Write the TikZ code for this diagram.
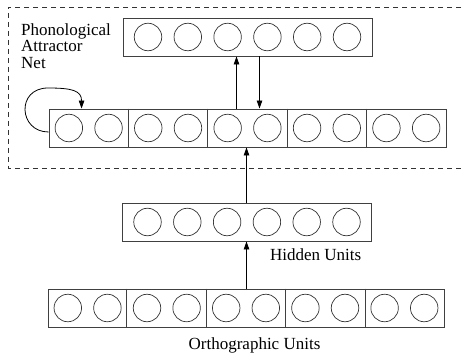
\documentclass[tikz,border=0pt]{standalone}
\usepackage{fontspec}
\newfontfamily\labelfont{Liberation Serif}
\usetikzlibrary{positioning,calc,arrows.meta}

\tikzset{
  layer/.style={draw=black!75, line width=0.9pt, minimum height=38pt, inner sep=0pt},
  unit/.style={circle, draw=black!80, line width=0.7pt, minimum size=27.5pt, inner sep=0pt},
  link/.style={-{Triangle[length=8pt,width=5.5pt]}, line width=0.8pt},
  lbl/.style={inner sep=0pt, font=\labelfont\fontsize{17}{16.3}\selectfont}
}

\begin{document}
\begin{tikzpicture}[x=1pt,y=-1pt]
  \useasboundingbox (0,0) rectangle (465,355);
  % attractor region
  \draw[dash pattern=on 5pt off 4pt, line width=0.7pt, black!80] (470,7) -- (8,7) -- (8,168) -- (470,168);
  % layers
  \node[layer, minimum width=249pt] (phonout) at (247.5,37) {};
  \node[layer, minimum width=397pt] (phon) at (247.5,128) {};
  \node[layer, minimum width=249pt] (hidden) at (246.5,222) {};
  \node[layer, minimum width=396pt] (orth) at (246,308) {};
  \foreach \g in {1,...,4} {
    \draw[black!75, line width=0.9pt] ($(phon.north west)!\g/5!(phon.north east)$) -- ($(phon.south west)!\g/5!(phon.south east)$);
    \draw[black!75, line width=0.9pt] ($(orth.north west)!\g/5!(orth.north east)$) -- ($(orth.south west)!\g/5!(orth.south east)$);
  }
  % units
  \foreach \k in {0,...,5} {
    \node[unit] (po\k) at (148+39.8*\k,37) {};
    \node[unit] (hu\k) at (147.5+39.8*\k,222) {};
  }
  \foreach \k in {0,...,9} {
    \node[unit] (pn\k) at (68.85+39.7*\k,128) {};
    \node[unit] (ou\k) at (67.8+39.6*\k,308) {};
  }
  % connections
  \draw[link] ([xshift=-11pt]phon.north) -- ([xshift=-11pt]phonout.south);
  \draw[link] ([xshift=12pt]phonout.south) -- ([xshift=12pt]phon.north);
  \draw[link] (hidden.north) -- (hidden.north |- phon.south);
  \draw[link] (orth.north -| hidden.south) -- (hidden.south);
  \coordinate (looptop) at (48,88);
  \draw[link] ([yshift=-4pt]phon.west) .. controls +(-30,0) and +(-32,0) .. (looptop)
    .. controls +(24,0) and +(0,-18) .. ([xshift=33pt]phon.north west);
  % labels
  \node[lbl, anchor=north west, align=left] (netlabel) at (21,23.5) {Phonological\\Attractor\\Net};
  \node[lbl, anchor=north east] (hidlabel) at ([shift={(-10pt,-7pt)}]hidden.south east) {Hidden Units};
  \node[lbl, anchor=north] (orthlabel) at ([shift={(8.5pt,-10.5pt)}]orth.south) {Orthographic Units};
\end{tikzpicture}
\end{document}
